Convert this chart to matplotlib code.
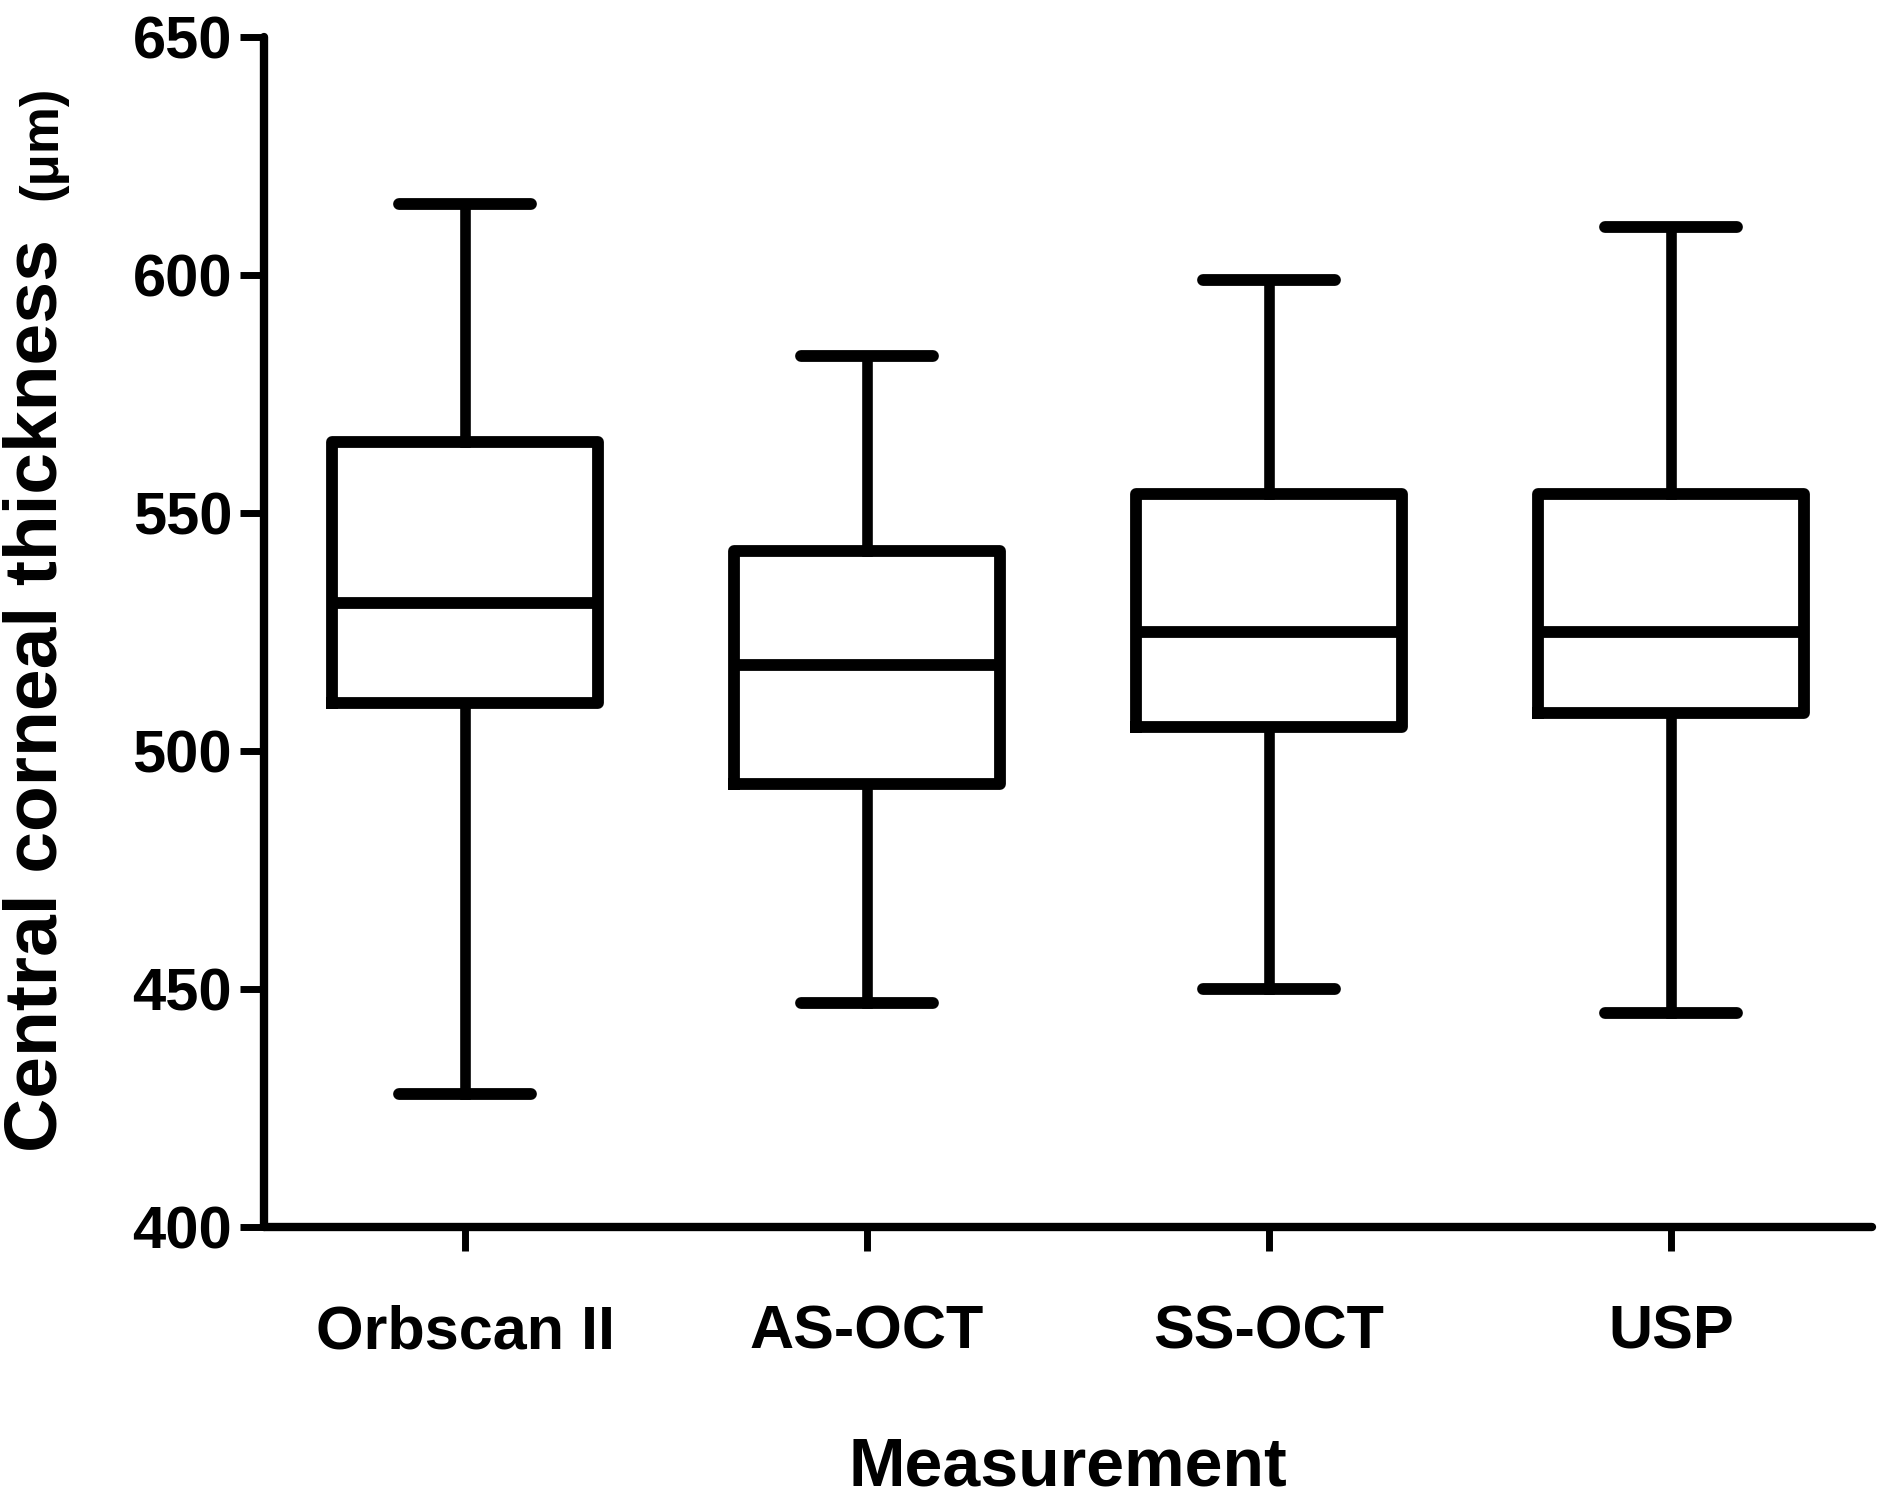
import matplotlib
matplotlib.use("Agg")
import matplotlib.pyplot as plt

# box statistics (um)
devices = ["Orbscan II", "AS-OCT", "SS-OCT", "USP"]
whislo = [428, 447, 450, 445]
q1 = [510, 493, 505, 508]
med = [531, 518, 525, 525]
q3 = [565, 542, 554, 554]
whishi = [615, 583, 599, 610]

yticks = [400, 450, 500, 550, 600, 650]

narrow = ["Liberation Sans Narrow", "Liberation Sans", "DejaVu Sans"]
wide = ["Liberation Sans", "DejaVu Sans"]

stats = []
for i in range(len(devices)):
    stats.append({"label": devices[i], "whislo": whislo[i], "q1": q1[i],
                  "med": med[i], "q3": q3[i], "whishi": whishi[i]})

fig = plt.figure(figsize=(18.77, 15.02), dpi=100)
ax = fig.add_axes([0.1407, 0.1831, 0.8566, 0.7923])

lw = 8.5
bp = ax.bxp(stats, positions=range(1, 5), widths=0.66, showfliers=False,
            boxprops=dict(linewidth=lw, color="black", solid_joinstyle="round"),
            medianprops=dict(linewidth=lw, color="black"),
            whiskerprops=dict(linewidth=lw * 0.9, color="black"),
            capprops=dict(linewidth=lw, color="black", solid_capstyle="round"))

ax.set_xlim(0.5, 4.5)
ax.set_ylim(400, 650)
ax.set_yticks(yticks)
ax.set_xticks(range(1, 5))
ax.set_xticklabels(devices)

for s in ["top", "right"]:
    ax.spines[s].set_visible(False)
for s in ["left", "bottom"]:
    ax.spines[s].set_linewidth(6)
    ax.spines[s].set_capstyle("round")

ax.tick_params(axis="both", length=17, width=5, direction="out")
ax.tick_params(axis="y", pad=6)
ax.tick_params(axis="x", pad=39)
for t in ax.get_yticklabels():
    t.set_fontfamily(narrow)
    t.set_fontweight("bold")
    t.set_fontsize(43)
for t in ax.get_xticklabels():
    t.set_fontfamily(narrow)
    t.set_fontweight("bold")
    t.set_fontsize(44)

# y label in two parts, the unit is set smaller
fig.text(0.0300, 0.537, "Central corneal thickness", rotation=90,
         rotation_mode="anchor", ha="center", va="baseline",
         family=wide, fontweight="bold", fontsize=54)
fig.text(0.0303, 0.905, "(\u03bcm)", rotation=90, rotation_mode="anchor",
         ha="center", va="baseline", family=wide, fontweight="bold",
         fontsize=38)

fig.text(0.5690, 0.011, "Measurement", ha="center", va="baseline",
         family=narrow, fontweight="bold", fontsize=49)

fig.savefig("out.png", dpi=100, facecolor="white")
